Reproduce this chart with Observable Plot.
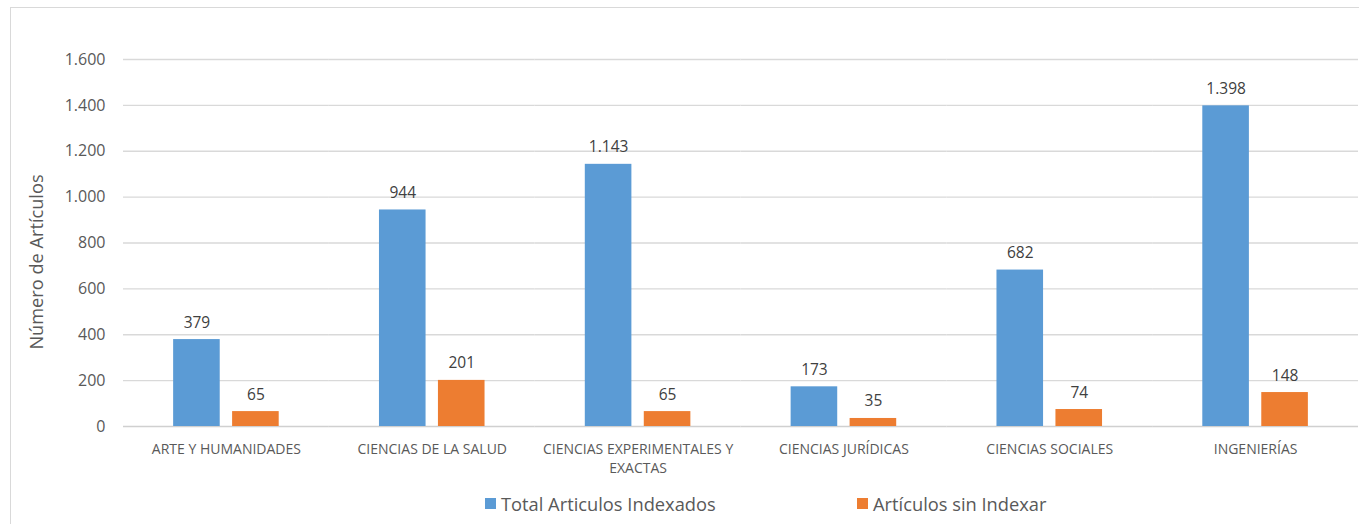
<!DOCTYPE html>
<html><head><meta charset="utf-8">
<script src="https://cdn.jsdelivr.net/npm/d3@7"></script>
<script src="https://cdn.jsdelivr.net/npm/@observablehq/plot@0.6"></script>
<style>
html,body{margin:0;padding:0;background:#fff;overflow:hidden;width:1359px;height:524px;font-family:"Open Sans",sans-serif;}
#frame{position:absolute;left:10px;top:7px;width:1400px;height:600px;border:1.5px solid #d9d9d9;box-sizing:border-box;}
#chart{position:absolute;left:0;top:0;}
#ylabel{position:absolute;left:36px;top:262px;transform:translate(-50%,-50%) rotate(-90deg);white-space:nowrap;font-size:18.2px;color:#595959;}
.leg{position:absolute;top:491px;font-size:18.3px;color:#595959;white-space:nowrap;display:flex;align-items:center;}
.sw{display:inline-block;width:11px;height:11px;margin-right:5px;}
</style>
</head><body>
<div id="frame"></div>
<div id="chart"></div>
<div id="ylabel">Número de Artículos</div>
<div id="legend"></div>
<script>
const categories = ["ARTE Y HUMANIDADES","CIENCIAS DE LA SALUD","CIENCIAS EXPERIMENTALES Y EXACTAS","CIENCIAS JURÍDICAS","CIENCIAS SOCIALES","INGENIERÍAS"];
const series = ["Total Articulos Indexados","Artículos sin Indexar"];
const indexados = [379,944,1143,173,682,1398];
const sinIndexar = [65,201,65,35,74,148];
const yTicks = [0,200,400,600,800,1000,1200,1400,1600];
const colors = ["#5B9BD5","#ED7D31"];

const locale = d3.formatLocale({decimal:",", thousands:".", grouping:[3], currency:["","€"]});
const fmt = locale.format(",d");
const wrap = d => d === "CIENCIAS EXPERIMENTALES Y EXACTAS" ? "CIENCIAS EXPERIMENTALES Y\nEXACTAS" : d;

const data = categories.flatMap((c,i) => [
  {cat:c, serie:series[0], value:indexados[i]},
  {cat:c, serie:series[1], value:sinIndexar[i]}
]);

const chart = Plot.plot({
  width:1359, height:480,
  marginLeft:123, marginRight:1, marginTop:59, marginBottom:54,
  style:{fontFamily:"'Open Sans', sans-serif", color:"#595959", background:"transparent", overflow:"visible"},
  fx:{domain:categories, paddingInner:0, paddingOuter:0, round:false, label:null},
  x:{domain:series, paddingInner:0.21, paddingOuter:0.85, round:false, axis:null},
  y:{domain:[0,1600], label:null},
  color:{domain:series, range:colors},
  marks:[
    Plot.ruleY(yTicks.slice(1), {stroke:"#d9d9d9", strokeWidth:1.3}),
    Plot.ruleY([0], {stroke:"#d0d0d0", strokeWidth:1.6}),
    Plot.barY(data, {fx:"cat", x:"serie", y:"value", fill:"serie"}),
    Plot.text(data, {fx:"cat", x:"serie", y:"value", text:d => fmt(d.value), dy:-12, lineAnchor:"bottom", fill:"#404040", fontSize:15.5}),
    Plot.axisY({ticks:yTicks, tickFormat:fmt, tickSize:0, tickPadding:18, fontSize:16, label:null}),
    Plot.axisFx({anchor:"bottom", tickSize:0, tickPadding:14, fontSize:14, tickFormat:wrap, label:null, lineHeight:1.35})
  ]
});
document.getElementById("chart").appendChild(chart);

const legend = document.getElementById("legend");
const legX = [485, 857];
series.forEach((s,i) => {
  const item = document.createElement("div");
  item.className = "leg";
  item.style.left = legX[i] + "px";
  const sw = document.createElement("span");
  sw.className = "sw";
  sw.style.background = colors[i];
  item.appendChild(sw);
  item.appendChild(document.createTextNode(s));
  legend.appendChild(item);
});
</script>
</body></html>
